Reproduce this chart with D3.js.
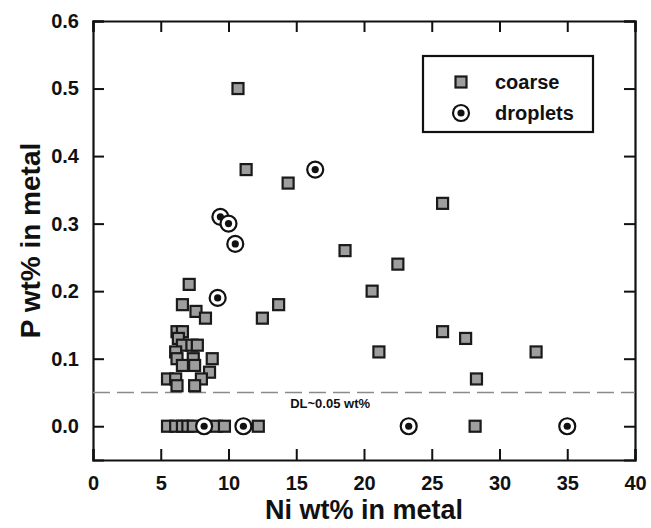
<!DOCTYPE html>
<html>
<head>
<meta charset="utf-8">
<script src="https://cdn.jsdelivr.net/npm/d3@7"></script>
<style>
  body { margin: 0; background: #fff; }
  text { font-family: "Liberation Sans", Arial, sans-serif; font-weight: bold; fill: #111; }
</style>
</head>
<body>
<div id="chart"></div>
<script>
// coarse metal grains: Ni wt% / P wt%
var coarseNi = [10.7, 11.3, 14.4, 18.6, 25.8, 22.5, 20.6, 25.8, 27.5, 21.1, 32.7, 28.3, 28.2, 12.5, 13.7,
                7.1, 6.6, 7.6, 8.3, 6.2, 6.6, 6.3, 6.6, 7.3, 7.7, 6.1, 6.2, 7.4, 8.8, 6.6, 7.5, 8.6,
                5.5, 6.1, 8.0, 6.2, 7.5,
                5.5, 6.1, 6.6, 7.0, 7.4, 9.1, 9.7, 12.2];
var coarseP  = [0.50, 0.38, 0.36, 0.26, 0.33, 0.24, 0.20, 0.14, 0.13, 0.11, 0.11, 0.07, 0.00, 0.16, 0.18,
                0.21, 0.18, 0.17, 0.16, 0.14, 0.14, 0.13, 0.12, 0.12, 0.12, 0.11, 0.10, 0.10, 0.10, 0.09, 0.09, 0.08,
                0.07, 0.07, 0.07, 0.06, 0.06,
                0, 0, 0, 0, 0, 0, 0, 0];
// droplets
var dropNi = [16.4, 9.4, 10.0, 10.5, 9.2, 8.2, 11.1, 23.3, 35.0];
var dropP  = [0.38, 0.31, 0.30, 0.27, 0.19, 0, 0, 0, 0];

var xTicks = [0, 5, 10, 15, 20, 25, 30, 35, 40];
var yTicks = [0, 0.1, 0.2, 0.3, 0.4, 0.5, 0.6];
var detectionLimit = 0.05;

var W = 651, H = 528,
    m = { left: 93, right: 16, top: 21, bottom: 68 },
    tickLen = 11;

var svg = d3.select('#chart')
            .append('svg')
            .attr('width', W)
            .attr('height', H);

var x = d3.scaleLinear().domain([0, 40]).range([m.left, W - m.right]),
    y = d3.scaleLinear().domain([-0.05, 0.6]).range([H - m.bottom, m.top]);

// axes, ticks drawn inward on all four sides
svg.append('g')
   .attr('transform', 'translate(0,' + y(-0.05) + ')')
   .call(d3.axisBottom(x).tickValues(xTicks).tickSize(-tickLen).tickPadding(16).tickFormat(d3.format('d')))
   .call(function(g) { g.selectAll('text').style('font-size', '20px'); });

svg.append('g')
   .attr('transform', 'translate(0,' + y(0.6) + ')')
   .call(d3.axisTop(x).tickValues(xTicks).tickSize(-tickLen).tickFormat(''));

svg.append('g')
   .attr('transform', 'translate(' + x(0) + ',0)')
   .call(d3.axisLeft(y).tickValues(yTicks).tickSize(-tickLen).tickPadding(14).tickFormat(d3.format('.1f')))
   .call(function(g) { g.selectAll('text').style('font-size', '20px'); });

svg.append('g')
   .attr('transform', 'translate(' + x(40) + ',0)')
   .call(d3.axisRight(y).tickValues(yTicks).tickSize(-tickLen).tickFormat(''));

svg.selectAll('.domain').attr('stroke', '#111').attr('stroke-width', 2.2);
svg.selectAll('.tick line').attr('stroke', '#111').attr('stroke-width', 2);
svg.selectAll('.tick text').attr('fill', '#111');

// detection limit line
svg.append('line')
   .attr('x1', x(0)).attr('x2', x(40))
   .attr('y1', y(detectionLimit)).attr('y2', y(detectionLimit))
   .attr('stroke', '#8a8a8a')
   .attr('stroke-width', 1.6)
   .attr('stroke-dasharray', '17,7');

svg.append('text')
   .attr('x', x(17.5)).attr('y', y(detectionLimit) + 16)
   .attr('text-anchor', 'middle')
   .style('font-size', '13px')
   .text('DL~0.05 wt%');

// markers
function square(g, cx, cy) {
  g.append('rect')
   .attr('x', cx - 5.5).attr('y', cy - 5.5)
   .attr('width', 11).attr('height', 11)
   .attr('fill', '#9e9e9e')
   .attr('stroke', '#1a1a1a')
   .attr('stroke-width', 2.2);
}
function droplet(g, cx, cy) {
  g.append('circle').attr('cx', cx).attr('cy', cy).attr('r', 8)
   .attr('fill', '#fff').attr('stroke', '#111').attr('stroke-width', 2.2);
  g.append('circle').attr('cx', cx).attr('cy', cy).attr('r', 3.6).attr('fill', '#111');
}

var marks = svg.append('g');
coarseNi.forEach(function(d, i) { square(marks, x(d), y(coarseP[i])); });
dropNi.forEach(function(d, i) { droplet(marks, x(d), y(dropP[i])); });

// legend
var lg = svg.append('g');
lg.append('rect')
  .attr('x', 423).attr('y', 56).attr('width', 170).attr('height', 76)
  .attr('fill', '#fff').attr('stroke', '#111').attr('stroke-width', 2.2);
square(lg, 461, 82);
droplet(lg, 461, 113);
lg.append('text').attr('x', 495).attr('y', 89).style('font-size', '20px').text('coarse');
lg.append('text').attr('x', 495).attr('y', 120).style('font-size', '20px').text('droplets');

// axis titles
svg.append('text')
   .attr('x', x(20)).attr('y', 519)
   .attr('text-anchor', 'middle')
   .style('font-size', '27px')
   .text('Ni wt% in metal');

svg.append('text')
   .attr('transform', 'translate(40,' + y(0.275) + ') rotate(-90)')
   .attr('text-anchor', 'middle')
   .style('font-size', '28px')
   .text('P wt% in metal');
</script>
</body>
</html>
